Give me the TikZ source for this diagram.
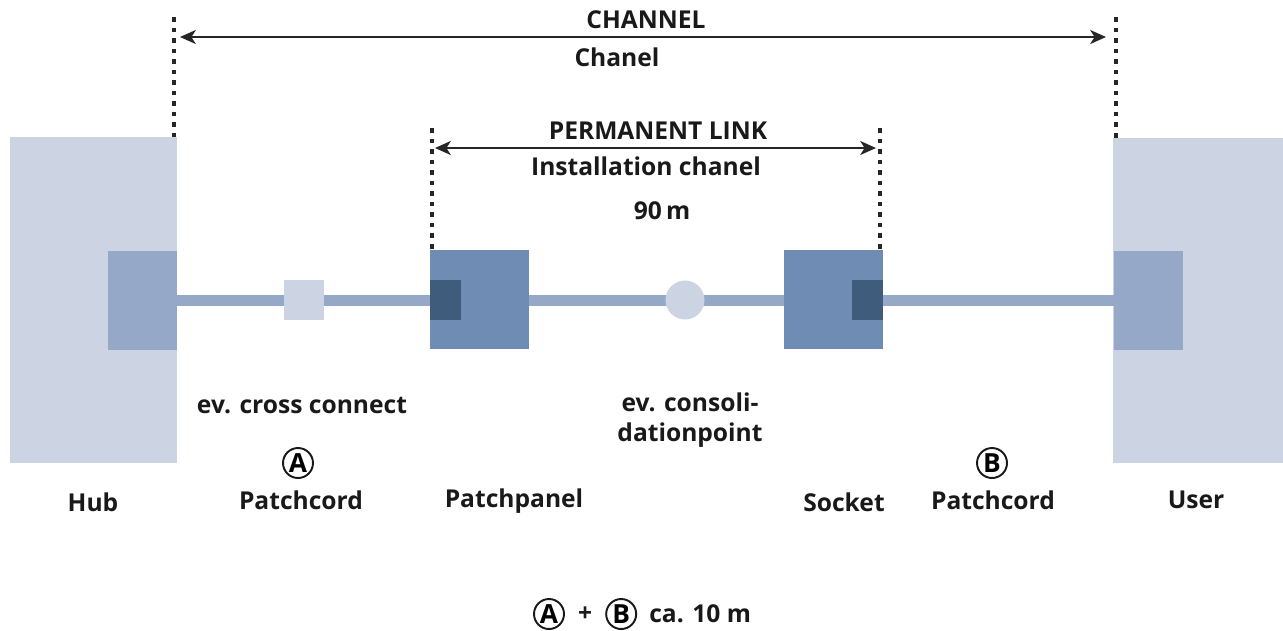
\documentclass[tikz,border=0pt]{standalone}
\usepackage{fontspec}
\setmainfont{Open Sans}
\usetikzlibrary{arrows.meta,positioning}
\definecolor{boxlight}{HTML}{CCD3E3}
\definecolor{boxmid}{HTML}{96A8C8}
\definecolor{panelblue}{HTML}{6F8DB4}
\definecolor{portdark}{HTML}{3F5C7C}
\tikzset{
  device/.style={fill=#1, draw=none, inner sep=0pt},
  lbl/.style={font=\bfseries\fontsize{14}{17}\selectfont, text=black!90, inner sep=1pt},
  tag/.style={circle, draw=black!90, line width=1.1pt, minimum size=0.6cm, inner sep=0pt,
    font=\bfseries\fontsize{15}{17}\selectfont},
  limit/.style={line width=1.8pt, black!85, dash pattern=on 2.6pt off 3.4pt},
  span/.style={{Stealth[length=9pt,width=8pt,inset=2.5pt]}-{Stealth[length=9pt,width=8pt,inset=2.5pt]}, line width=1.2pt, black!85},
  cable/.style={boxmid, line width=6pt}
}
\begin{document}
\begin{tikzpicture}[x=0.02cm, y=-0.02cm]
  \useasboundingbox (0,0) rectangle (1283,630);
  % hub and user
  \node[device=boxlight, minimum width=3.34cm, minimum height=6.52cm] (hub) at (93.5,300) {};
  \node[device=boxmid, minimum width=1.38cm, minimum height=1.98cm] (hubport) at (142.5,300.5) {};
  \node[device=boxlight, minimum width=3.4cm, minimum height=6.5cm] (user) at (1198,300.5) {};
  \node[device=boxmid, minimum width=1.38cm, minimum height=1.98cm] (userport) at (1148.5,300.5) {};
  \draw[cable] (hubport.east) -- (userport.west);
  % parts on the line
  \node[device=boxlight, minimum size=0.8cm] (cross) at (304,300) {};
  \node[device=panelblue, minimum size=1.98cm] (panel) at (479.5,299.5) {};
  \node[device=portdark, minimum width=0.62cm, minimum height=0.8cm] (panelport) at (445.5,300) {};
  \node[device=boxlight, circle, minimum size=0.78cm] (cpoint) at (685,300) {};
  \node[device=panelblue, minimum size=1.98cm] (socket) at (833.5,299.5) {};
  \node[device=portdark, minimum width=0.62cm, minimum height=0.8cm] (socketport) at (867.5,300) {};
  % limits
  \coordinate (chL) at (174,17);
  \coordinate (chR) at (1116,17);
  \coordinate (plL) at (432,128);
  \coordinate (plR) at (880,128);
  \draw[limit] (chL) -- (chL |- hub.north);
  \draw[limit] (chR) -- (chR |- user.north);
  \draw[limit] (plL) -- (plL |- panel.north);
  \draw[limit] (plR) -- (plR |- socket.north);
  \coordinate (chA) at (180,37);
  \coordinate (chB) at (1106,37);
  \coordinate (plA) at (435,148);
  \coordinate (plB) at (876,148);
  \draw[span] (chA) -- (chB);
  \draw[span] (plA) -- (plB);
  % texts
  \node[lbl] (channel) at (646,20) {CHANNEL};
  \node[lbl] (chanel) at (617,57) {Chanel};
  \node[lbl] (permlink) at (658,131) {PERMANENT LINK};
  \node[lbl] (instchanel) at (646,166) {Installation chanel};
  \node[lbl] (length) at (662,211) {90\,m};
  \node[lbl] (crosstxt) at (302,406) {ev. cross connect};
  \node[lbl, align=center] (cpointtxt) at (690,420) {ev. consoli-\\dationpoint};
  \node[tag] (tagA) at (298,463) {A};
  \node[tag] (tagB) at (992,463) {B};
  \node[lbl] (cordA) at (301,500) {Patchcord};
  \node[lbl] (cordB) at (993,500) {Patchcord};
  \node[lbl] (hubtxt) at (93,502) {Hub};
  \node[lbl] (paneltxt) at (514,501) {Patchpanel};
  \node[lbl] (sockettxt) at (844,502) {Socket};
  \node[lbl] (usertxt) at (1196,500) {User};
  % sum
  \node[tag] (sumA) at (549,614) {A};
  \node[lbl, right=0.22cm of sumA] (plus) {+};
  \node[tag, right=0.22cm of plus] (sumB) {B};
  \node[lbl, right=0.2cm of sumB] (sumtxt) {ca. 10 m};
\end{tikzpicture}
\end{document}
